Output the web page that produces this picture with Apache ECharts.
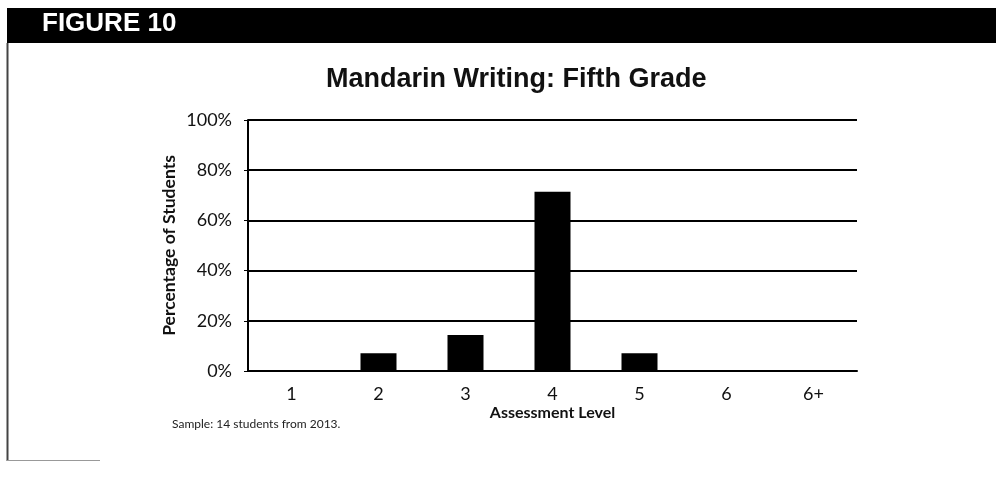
<!DOCTYPE html>
<html>
<head>
<meta charset="utf-8">
<script src="https://cdn.jsdelivr.net/npm/echarts@6/dist/echarts.min.js"></script>
<style>
html, body { margin: 0; padding: 0; background: #fff; }
#main { width: 996px; height: 490px; }
</style>
</head>
<body>
<div id="main"></div>
<script>
// Mandarin Writing, fifth grade, 14 students
const levels = ['1', '2', '3', '4', '5', '6', '6+'];
const percentOfStudents = [0, 7.1, 14.3, 71.4, 7.1, 0, 0];
const yTicks = [0, 20, 40, 60, 80, 100];

let myChart = echarts.init(document.getElementById('main'));
let option = {
	backgroundColor: '#fff',
	animation: false,
	title: {
		text: 'Mandarin Writing: Fifth Grade',
		left: 321,
		top: 61,
		textStyle: {
			fontFamily: 'Liberation Sans',
			fontWeight: 'bold',
			fontSize: 27,
			color: '#111'
		}
	},
	graphic: [
		{ type: 'rect', shape: { x: 7, y: 8, width: 989, height: 35 }, style: { fill: '#000' } },
		{ type: 'text', left: 42, top: 11, style: { text: 'FIGURE 10', fill: '#fff', font: 'bold 26px "Liberation Sans"' } },
		{ type: 'line', shape: { x1: 7.5, y1: 43, x2: 7.5, y2: 461 }, style: { stroke: '#444', lineWidth: 2 } },
		{ type: 'line', shape: { x1: 7, y1: 460.5, x2: 100, y2: 460.5 }, style: { stroke: '#999', lineWidth: 1 } },
		{ type: 'text', left: 172, top: 418, style: { text: 'Sample: 14 students from 2013.', fill: '#222', font: '12px Lato' } }
	],
	grid: { left: 248, right: 139, top: 120, bottom: 119 },
	xAxis: {
		type: 'category',
		data: levels,
		name: 'Assessment Level',
		nameLocation: 'middle',
		nameMoveOverlap: false,
		nameGap: 34,
		nameTextStyle: { fontFamily: 'Lato', fontWeight: 'bold', fontSize: 16, color: '#111' },
		axisLine: { lineStyle: { color: '#000', width: 2 } },
		axisTick: { show: false },
		axisLabel: { margin: 14, fontFamily: 'Lato', fontSize: 18, color: '#111' }
	},
	yAxis: {
		type: 'value',
		min: 0,
		max: 100,
		interval: 20,
		name: 'Percentage of Students',
		nameLocation: 'middle',
		nameMoveOverlap: false,
		nameGap: 70,
		nameTextStyle: { fontFamily: 'Lato', fontWeight: 'bold', fontSize: 17.5, color: '#111' },
		axisLine: { show: true, lineStyle: { color: '#000', width: 2 } },
		axisTick: { show: true, length: 4, lineStyle: { color: '#000' } },
		axisLabel: {
			margin: 16,
			fontFamily: 'Lato',
			fontSize: 18,
			color: '#111',
			formatter: function (v) { return yTicks.indexOf(v) >= 0 ? v + '%' : ''; }
		},
		splitLine: { lineStyle: { color: '#000', width: 2 } }
	},
	series: [{
		type: 'bar',
		data: percentOfStudents,
		barWidth: 36,
		itemStyle: { color: '#000' }
	}]
};
myChart.setOption(option);
</script>
</body>
</html>
